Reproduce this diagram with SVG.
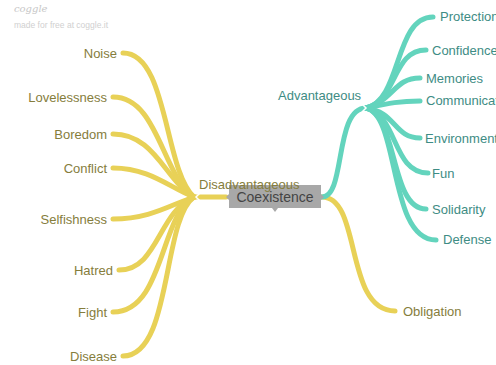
<svg xmlns="http://www.w3.org/2000/svg" width="496" height="365" viewBox="0 0 496 365">
  <style>
    .y { fill: none; stroke: #e8d157; stroke-width: 5; stroke-linecap: round; }
    .t { fill: none; stroke: #63d4bd; stroke-width: 5; stroke-linecap: round; }
    .ly { font-family: "Liberation Sans", Arial, sans-serif; font-size: 13px; fill: #857d3c; }
    .lt { font-family: "Liberation Sans", Arial, sans-serif; font-size: 13px; fill: #3e8c84; }
    .chev { fill: none; stroke: #ffffff; stroke-width: 1.5; }
  </style>
  <rect width="496" height="365" fill="#ffffff"/>

  <!-- branding -->
  <text x="14" y="12" font-family="DejaVu Serif, serif" font-style="italic" font-size="10" fill="#c8c8c8">coggle</text>
  <text x="14" y="28" font-family="Liberation Sans, Arial, sans-serif" font-size="8.5" fill="#d0d0d0">made for free at coggle.it</text>

  <g id="connectors">
    <!-- disadvantageous side -->
    <path class="y" d="M226,197 L190,197"/>
    <path class="y" d="M123,53 C168,53 164,170 194,197"/>
    <path class="y" d="M113,97 C158,97 162,175 194,197"/>
    <path class="y" d="M113,134 C155,134 165,180 194,197"/>
    <path class="y" d="M113,168 C150,168 170,188 194,197"/>
    <path class="y" d="M113,219 C150,219 170,205 194,197"/>
    <path class="y" d="M119,270 C158,270 158,212 194,197"/>
    <path class="y" d="M113,312 C164,312 160,215 194,197"/>
    <path class="y" d="M123,356 C172,356 162,220 194,197"/>
    <!-- obligation -->
    <path class="y" d="M322,197 C362,197 344,311 395,311"/>
    <!-- advantageous side -->
    <path class="t" d="M322,197 C346,197 334,108 366,108"/>
    <path class="t" d="M366,108 C402,100 394,17 433,17"/>
    <path class="t" d="M366,108 C398,100 392,50 426,50"/>
    <path class="t" d="M366,108 C394,100 394,78 420,78"/>
    <path class="t" d="M366,108 C390,103 400,101 420,101"/>
    <path class="t" d="M366,108 C396,112 394,138 420,138"/>
    <path class="t" d="M366,108 C398,115 392,173 428,173"/>
    <path class="t" d="M366,108 C398,115 390,209 426,209"/>
    <path class="t" d="M366,108 C400,115 388,240 436,240"/>
    <!-- junction marks -->
    <path class="chev" d="M200,193 L196,197 L200,201"/>
    <path class="chev" d="M362,104 L366,108 L362,112"/>
  </g>

  <g id="root">
    <path d="M229,185 L321,185 L321,194 L324,197 L321,200 L321,208 L278,208 L275,212 L272,208 L229,208 L229,200 L226,197 L229,194 Z" fill="#a8a8a8"/>
    <text x="275" y="202" text-anchor="middle" font-family="Liberation Sans, Arial, sans-serif" font-size="14" fill="#444444">Coexistence</text>
  </g>

  <g id="disadvantageous"><text class="ly" x="199" y="189" font-size="12">Disadvantageous</text></g>
  <g id="noise"><text class="ly" x="117" y="58" text-anchor="end">Noise</text></g>
  <g id="lovelessness"><text class="ly" x="107" y="102" text-anchor="end">Lovelessness</text></g>
  <g id="boredom"><text class="ly" x="107" y="139" text-anchor="end">Boredom</text></g>
  <g id="conflict"><text class="ly" x="107" y="173" text-anchor="end">Conflict</text></g>
  <g id="selfishness"><text class="ly" x="107" y="224" text-anchor="end">Selfishness</text></g>
  <g id="hatred"><text class="ly" x="113" y="275" text-anchor="end">Hatred</text></g>
  <g id="fight"><text class="ly" x="107" y="317" text-anchor="end">Fight</text></g>
  <g id="disease"><text class="ly" x="117" y="361" text-anchor="end">Disease</text></g>
  <g id="obligation"><text class="ly" x="403" y="316">Obligation</text></g>

  <g id="advantageous"><text class="lt" x="278" y="100">Advantageous</text></g>
  <g id="protection"><text class="lt" x="440" y="21">Protection</text></g>
  <g id="confidence"><text class="lt" x="432" y="55">Confidence</text></g>
  <g id="memories"><text class="lt" x="426" y="83">Memories</text></g>
  <g id="communication"><text class="lt" x="426" y="105">Communication</text></g>
  <g id="environment"><text class="lt" x="425" y="143">Environment</text></g>
  <g id="fun"><text class="lt" x="432" y="178">Fun</text></g>
  <g id="solidarity"><text class="lt" x="432" y="214">Solidarity</text></g>
  <g id="defense"><text class="lt" x="443" y="244">Defense</text></g>
</svg>
